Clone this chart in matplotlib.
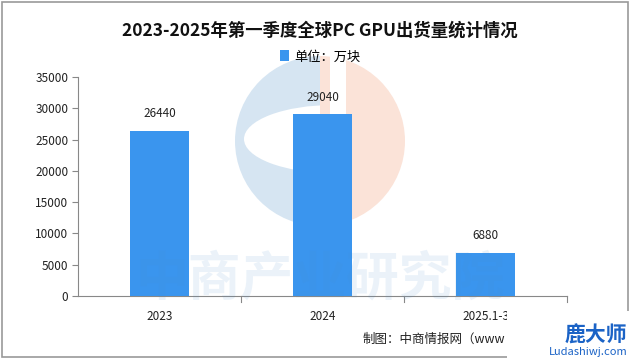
import matplotlib
matplotlib.use("Agg")
import matplotlib.pyplot as plt
from matplotlib.patches import Rectangle, Wedge, Ellipse

plt.rcParams['font.family'] = ['Noto Sans CJK SC', 'DejaVu Sans']

categories = ["2023", "2024", "2025.1-3"]
values = [26440, 29040, 6880]
yticks = [0, 5000, 10000, 15000, 20000, 25000, 30000, 35000]
title = "2023-2025年第一季度全球PC GPU出货量统计情况"
legend_label = "单位：万块"
source = "制图：中商情报网（www"   # visible part; the rest is hidden by the corner logo

bar_color = "#3a95ee"

fig = plt.figure(figsize=(6.4, 3.59), dpi=100)

# background watermark logo (pixel coordinates overlay)
bg = fig.add_axes([0, 0, 1, 1], zorder=0)
bg.set_xlim(0, 640)
bg.set_ylim(359, 0)
bg.axis('off')
cx, cy, r = 320, 141, 85
bg.add_patch(Wedge((cx, cy), r, 90, 270, facecolor='#d6e5f2', edgecolor='none'))
bg.add_patch(Rectangle((cx, cy - r + 1), 10, 2 * r - 2, facecolor='#d6e5f2', edgecolor='none'))
bg.add_patch(Ellipse((333, 139), 178, 68, facecolor='white', edgecolor='none'))
bg.add_patch(Wedge((cx, cy), r, -90, 90, facecolor='#fbe3d8', edgecolor='none'))
bg.add_patch(Rectangle((330, cy - r - 2), 16, 2 * r + 4, facecolor='white', edgecolor='none'))

ax = fig.add_axes([78/640, 1-296/359, (567-78)/640, (296-77)/359], zorder=1)
ax.patch.set_alpha(0)

x = list(range(len(categories)))
bars = ax.bar(x, values, width=0.36, color=bar_color, label=legend_label, zorder=3)
for xi, v in zip(x, values):
    ax.text(xi, v + 1700, str(v), ha='center', va='bottom', fontsize=8.5, color='#222222')

ax.set_xlim(-0.5, 2.5)
ax.set_ylim(0, 35000)
ax.set_yticks(yticks)
ax.set_yticklabels([str(t) for t in yticks], fontsize=8.5, color='#222222')
ax.set_xticks(x)
ax.set_xticklabels(categories, fontsize=8.5, color='#222222')
ax.tick_params(axis='x', length=0, pad=10)
ax.tick_params(axis='y', length=4, color='#888888', pad=3)
for b in [0.5, 1.5, 2.5]:
    ax.plot([b, b], [0, -900], color='#888888', lw=0.8, clip_on=False)
ax.spines['top'].set_visible(False)
ax.spines['right'].set_visible(False)
ax.spines['left'].set_color('#888888')
ax.spines['bottom'].set_color('#888888')
ax.spines['left'].set_linewidth(0.8)
ax.spines['bottom'].set_linewidth(0.8)

# watermark text
fig.text(320/640, 1-279/359, "中商产业研究院", ha='center', va='center', fontsize=38,
         color='#4a8fd0', alpha=0.11, fontweight='bold', zorder=10)

fig.text(0.5, 1-31/359, title, ha='center', va='center', fontsize=12.5, fontweight='bold', color='#111111')
fig.legend(handles=[bars], labels=[legend_label], loc='center', bbox_to_anchor=(0.5, 1-57/359),
           frameon=False, fontsize=9.5, handlelength=0.7, handleheight=0.9, handletextpad=0.4)

fig.text(363/640, 1-339/359, source, ha='left', va='center', fontsize=9, color='#222222', zorder=5)

# outer frame
fig.add_artist(Rectangle((2/640, 2/359), 626/640, 355/359, transform=fig.transFigure,
                         fill=False, edgecolor='#999999', lw=1.2))

# corner logo overlay
fig.add_artist(Rectangle((507/640, 0), 133/640, 48/359, transform=fig.transFigure,
                         facecolor='white', edgecolor='none', zorder=20))
fig.text(565/640, 1-335/359, "鹿大师", ha='left', va='center', fontsize=15, fontweight='bold',
         color='#1b63c6', zorder=21)
fig.text(588/640, 1-352/359, "Ludashiwj.com", ha='center', va='center', fontsize=8,
         color='#1b63c6', zorder=21)

fig.savefig("out.png", dpi=100)
